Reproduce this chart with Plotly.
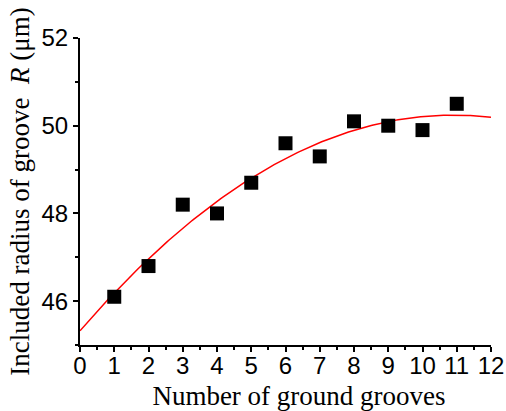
import numpy as np
import plotly.graph_objects as go

grooves = [1, 2, 3, 4, 5, 6, 7, 8, 9, 10, 11]
radius = [46.1, 46.8, 48.2, 48.0, 48.7, 49.6, 49.3, 50.1, 50.0, 49.9, 50.5]
x_ticks = list(range(0, 13))
y_ticks = [46, 48, 50, 52]

# quadratic fit of the measured points (as in the original figure)
coef = np.polyfit(grooves, radius, 2)
fit_x = np.linspace(0, 12, 200)
fit_y = np.polyval(coef, fit_x)

fig = go.Figure()
fig.add_trace(go.Scatter(x=fit_x, y=fit_y, mode="lines",
                         line=dict(color="#ff0000", width=1.5), showlegend=False))
fig.add_trace(go.Scatter(x=grooves, y=radius, mode="markers",
                         marker=dict(symbol="square", size=14, color="black"),
                         showlegend=False))

tickfont = dict(family="Liberation Sans, Arial, sans-serif", size=24, color="black")
titlefont = dict(family="Liberation Serif, Times New Roman, serif", size=27, color="black")

fig.update_layout(
    width=506, height=411,
    margin=dict(l=80, r=15, t=38, b=66),
    paper_bgcolor="white", plot_bgcolor="white",
    xaxis=dict(range=[0, 12], tickvals=x_ticks, showgrid=False, zeroline=False,
               showline=True, linecolor="black", linewidth=2, automargin=False,
               ticks="outside", ticklen=5, tickwidth=2, tickcolor="black",
               ticklabelstandoff=-7,
               minor=dict(dtick=0.5, tick0=0, ticks="outside", ticklen=3, tickwidth=1.5, tickcolor="black"),
               tickfont=tickfont,
               title=dict(text="&nbsp;&nbsp;&nbsp;&nbsp;Number of ground grooves", font=titlefont, standoff=21)),
    yaxis=dict(range=[45, 52], tickvals=y_ticks, showgrid=False, zeroline=False,
               showline=True, linecolor="black", linewidth=2, automargin=False,
               ticks="outside", ticklen=5, tickwidth=2, tickcolor="black",
               minor=dict(dtick=1, tick0=45, ticks="outside", ticklen=3, tickwidth=1.5, tickcolor="black"),
               tickfont=tickfont,
               title=dict(text="Included radius of groove&nbsp;&nbsp;<i>R</i> (μm)", font=titlefont, standoff=4)),
)

fig.write_html("out.html", config={"displayModeBar": False},
               post_script="document.body.style.margin='0';")
